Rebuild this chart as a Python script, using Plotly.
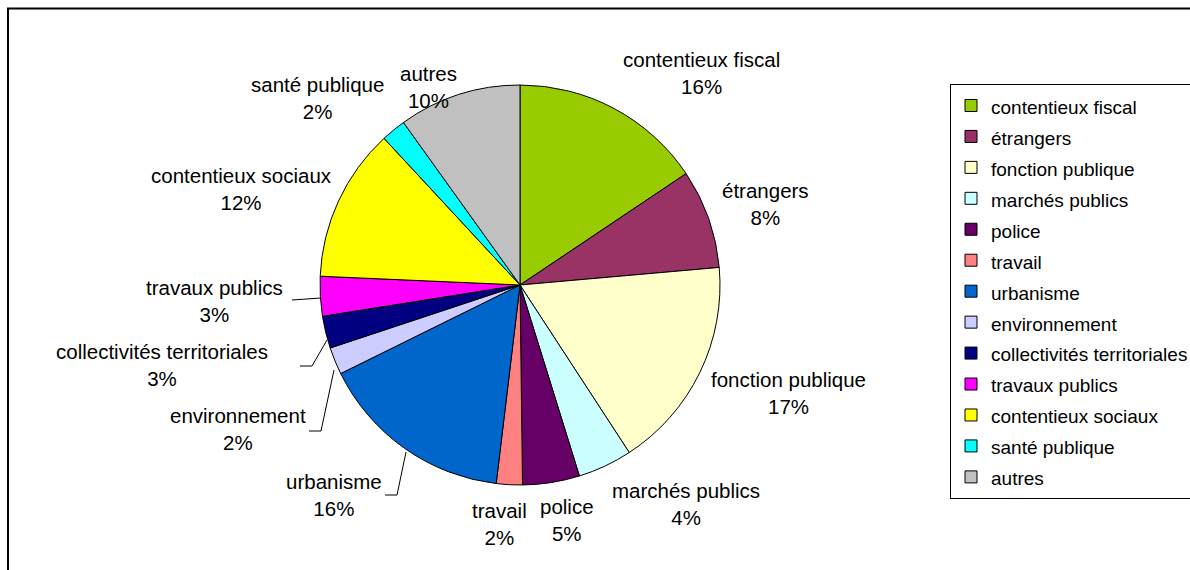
import plotly.graph_objects as go

W, H = 1190, 570

# ---- data ----
categories = [
    "contentieux fiscal", "étrangers", "fonction publique", "marchés publics",
    "police", "travail", "urbanisme", "environnement",
    "collectivités territoriales", "travaux publics", "contentieux sociaux",
    "santé publique", "autres",
]
values = [15.6, 8.0, 17.2, 4.4, 4.6, 2.1, 15.8, 2.2, 2.6, 3.2, 12.4, 2.0, 9.9]
colors = [
    "#99CC00", "#993366", "#FFFFCC", "#CCFFFF", "#660066", "#FF8080",
    "#0066CC", "#CCCCFF", "#000080", "#FF00FF", "#FFFF00", "#00FFFF", "#C0C0C0",
]

# ---- layout helpers (pixel -> paper) ----
def px(x):
    return x / W

def py(y):
    return 1 - y / H

# label centre positions (layout only), in pixels
label_pos = {
    "contentieux fiscal": (701, 73),
    "étrangers": (765, 204),
    "fonction publique": (788, 393),
    "marchés publics": (686, 504),
    "police": (567, 520),
    "travail": (499, 524),
    "urbanisme": (334, 495),
    "environnement": (238, 429),
    "collectivités territoriales": (162, 365),
    "travaux publics": (214, 301),
    "contentieux sociaux": (241, 189),
    "santé publique": (317, 98),
    "autres": (428, 87),
}

total = sum(values)
pcts = [round(v / total * 100) for v in values]

legend_labels = [f"<span style='font-size:19px'>{c}</span>" for c in categories]

cx, cy, r = 520, 285, 200
fig = go.Figure(go.Pie(
    labels=legend_labels,
    values=values,
    sort=False,
    direction="clockwise",
    rotation=0,
    marker=dict(colors=colors, line=dict(color="black", width=1)),
    textinfo="none",
    hoverinfo="label+percent",
    domain=dict(x=[px(cx - r), px(cx + r)], y=[py(cy + r), py(cy - r)]),
))

annotations = []
for c, p in zip(categories, pcts):
    x, y = label_pos[c]
    annotations.append(dict(
        x=px(x), y=py(y), xref="paper", yref="paper",
        text=f"{c}<br>{p}%", showarrow=False,
        xanchor="center", yanchor="middle", align="center",
        font=dict(family="Liberation Sans, Arial, sans-serif", size=20.5, color="black"),
    ))

def path(points):
    return "M " + " L ".join(f"{px(x)},{py(y)}" for x, y in points)

leaders = [
    [(292, 300), (321, 298)],
    [(300, 366), (312, 366), (327, 340)],
    [(309, 431), (321, 431), (334, 370)],
    [(385, 495), (397, 495), (406, 452)],
]
shapes = [dict(type="path", xref="paper", yref="paper", path=path(pts),
               line=dict(color="black", width=1)) for pts in leaders]
shapes.append(dict(type="rect", xref="paper", yref="paper",
                   x0=px(8), x1=1.05, y0=-0.05, y1=py(8.5),
                   line=dict(color="black", width=2)))

fig.update_layout(
    width=W, height=H,
    margin=dict(l=0, r=0, t=0, b=0, autoexpand=False),
    paper_bgcolor="white", plot_bgcolor="white",
    font=dict(family="Liberation Sans, Arial, sans-serif", color="black"),
    showlegend=True,
    legend=dict(
        x=px(950), y=py(84), xanchor="left", yanchor="top",
        bordercolor="black", borderwidth=1, bgcolor="white",
        font=dict(family="Liberation Sans, Arial, sans-serif", size=21.5, color="black"),
        itemwidth=30, traceorder="normal",
    ),
    annotations=annotations,
    shapes=shapes,
)

fig.write_html("out.html", config={"displayModeBar": False},
               post_script="document.body.style.margin='0';")
